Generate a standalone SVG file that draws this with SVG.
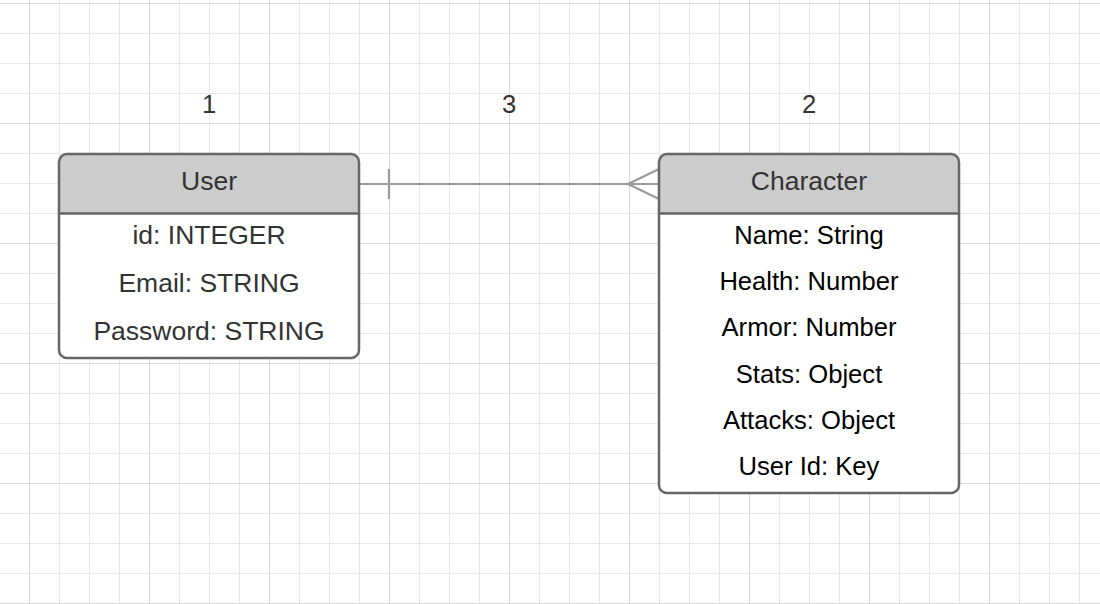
<svg xmlns="http://www.w3.org/2000/svg" width="1100" height="604" viewBox="0 0 1100 604">
  <style>
    .box { fill: none; stroke: #666666; stroke-width: 2.5; }
    .hdr { fill: #cccccc; }
    .sep { stroke: #666666; stroke-width: 2.5; }
    .t { font-family: "Liberation Sans", Arial, sans-serif; text-anchor: middle; }
    .h { font-size: 26.5px; fill: #333333; }
    .ur { font-size: 26.5px; fill: #333333; }
    .cr { font-size: 25.6px; fill: #000000; }
    .num { font-size: 25.6px; fill: #333333; }
    .conn { stroke: #999999; stroke-width: 2.2; fill: none; }
  </style>
  <defs>
    <pattern id="minor" x="29" y="3" width="30" height="30" patternUnits="userSpaceOnUse">
      <rect x="0" y="0" width="1" height="30" fill="#e8e8e8"/>
      <rect x="0" y="0" width="30" height="1" fill="#e8e8e8"/>
    </pattern>
    <pattern id="major" x="29" y="3" width="120" height="120" patternUnits="userSpaceOnUse">
      <rect x="0" y="0" width="1" height="120" fill="#d9d9d9"/>
      <rect x="0" y="0" width="120" height="1" fill="#d9d9d9"/>
    </pattern>
  </defs>
  <rect width="1100" height="604" fill="#ffffff"/>
  <rect width="1100" height="604" fill="url(#minor)"/>
  <rect width="1100" height="604" fill="url(#major)"/>

  <g id="label-1"><text class="t num" x="209" y="113">1</text></g>
  <g id="label-3"><text class="t num" x="509" y="113">3</text></g>
  <g id="label-2"><text class="t num" x="809" y="113">2</text></g>

  <g id="connectors">
    <line class="conn" x1="359" y1="184" x2="659" y2="184"/>
    <line class="conn" x1="389" y1="169" x2="389" y2="199"/>
    <polyline class="conn" points="659,169 628,184 659,199"/>
  </g>

  <g id="user">
    <rect x="59" y="154" width="300" height="204" rx="8" ry="8" fill="#ffffff"/>
    <path class="hdr" d="M59,213.5 V162 Q59,154 67,154 H351 Q359,154 359,162 V213.5 Z"/>
    <rect class="box" x="59" y="154" width="300" height="204" rx="8" ry="8"/>
    <line class="sep" x1="59" y1="213.5" x2="359" y2="213.5"/>
    <text class="t h" x="209" y="190">User</text>
    <text class="t ur" x="209" y="244">id: INTEGER</text>
    <text class="t ur" x="209" y="292">Email: STRING</text>
    <text class="t ur" x="209" y="339.5">Password: STRING</text>
  </g>

  <g id="character">
    <rect x="659" y="154" width="300" height="339" rx="8" ry="8" fill="#ffffff"/>
    <path class="hdr" d="M659,213.5 V162 Q659,154 667,154 H951 Q959,154 959,162 V213.5 Z"/>
    <rect class="box" x="659" y="154" width="300" height="339" rx="8" ry="8"/>
    <line class="sep" x1="659" y1="213.5" x2="959" y2="213.5"/>
    <text class="t h" x="809" y="190">Character</text>
    <text class="t cr" x="809" y="243.5">Name: String</text>
    <text class="t cr" x="809" y="289.5">Health: Number</text>
    <text class="t cr" x="809" y="336">Armor: Number</text>
    <text class="t cr" x="809" y="382.5">Stats: Object</text>
    <text class="t cr" x="809" y="429">Attacks: Object</text>
    <text class="t cr" x="809" y="475">User Id: Key</text>
  </g>
</svg>
